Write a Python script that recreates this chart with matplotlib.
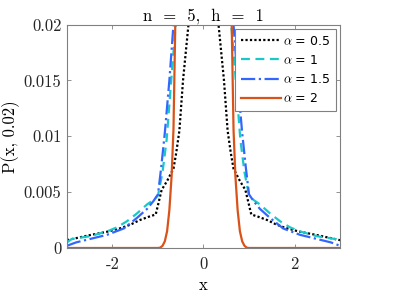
import numpy as np
import matplotlib
matplotlib.use("Agg")
import matplotlib.pyplot as plt
from matplotlib.ticker import FuncFormatter

# half-curves (x >= 0), mirrored to x < 0 below
x_a05 = [0.0, 0.28, 0.33, 0.45, 0.53, 0.60, 0.66, 0.80, 0.92, 1.05, 1.20, 1.40, 1.60, 1.80, 2.10, 2.50, 3.0]
p_a05 = [0.1, 0.025, 0.020, 0.015, 0.0105, 0.0085, 0.0071, 0.0060, 0.0052, 0.0030, 0.0028, 0.0025, 0.0021, 0.0018, 0.00147, 0.00115, 0.0007]

x_a1 = [0.0, 0.55, 0.61, 0.70, 0.81, 0.90, 1.00, 1.10, 1.24, 1.46, 1.68, 1.90, 2.12, 2.50, 2.90, 3.0]
p_a1 = [0.1, 0.025, 0.020, 0.0155, 0.0097, 0.0068, 0.0047, 0.0043, 0.0039, 0.0031, 0.0024, 0.00185, 0.00148, 0.00105, 0.0008, 0.0005]

x_a15 = [0.0, 0.60, 0.66, 0.75, 0.85, 0.93, 1.00, 1.10, 1.24, 1.46, 1.75, 2.12, 2.50, 2.80, 3.0]
p_a15 = [0.1, 0.025, 0.020, 0.015, 0.0103, 0.0072, 0.0048, 0.0042, 0.0035, 0.0027, 0.00175, 0.00118, 0.0008, 0.0005, 0.0002]

x_a2 = [0.0, 0.50, 0.60, 0.62, 0.66, 0.70, 0.75, 0.80, 0.85, 0.90, 0.95, 1.00, 3.0]
p_a2 = [0.5, 0.05, 0.024, 0.020, 0.0106, 0.0065, 0.0034, 0.0015, 0.0006, 0.0002, 0.00003, 0.0, 0.0]

labels = [r"$\alpha$ = 0.5", r"$\alpha$ = 1", r"$\alpha$ = 1.5", r"$\alpha$ = 2"]


def mirror(x, p):
    x = np.asarray(x)
    p = np.asarray(p)
    return np.concatenate([-x[::-1], x[1:]]), np.concatenate([p[::-1], p[1:]])


plt.rcParams["font.family"] = "serif"
plt.rcParams["font.serif"] = ["cmr10"]
plt.rcParams["mathtext.fontset"] = "cm"
plt.rcParams["axes.unicode_minus"] = False

fig = plt.figure(figsize=(4.07, 2.96), dpi=100)
ax = fig.add_axes([0.1646, 0.1622, 0.6708, 0.755])

styles = [
    dict(color="black", linestyle=(0, (1, 1)), linewidth=1.6),
    dict(color="#19c8c8", linestyle=(0, (4, 2.5)), linewidth=1.6),
    dict(color="#3366ff", linestyle="-.", linewidth=1.6),
    dict(color="#d95319", linestyle="-", linewidth=1.6),
]
for (xs, ps), lab, st in zip([(x_a05, p_a05), (x_a1, p_a1), (x_a15, p_a15), (x_a2, p_a2)], labels, styles):
    xx, pp = mirror(xs, ps)
    ax.plot(xx, pp, label=lab, **st)

ax.set_xlim(-3, 3)
ax.set_ylim(0, 0.02)
ax.set_xticks([-2, 0, 2])
ax.set_yticks([0, 0.005, 0.01, 0.015, 0.02])
ax.yaxis.set_major_formatter(FuncFormatter(lambda v, pos: "%g" % v))
ax.xaxis.set_major_formatter(FuncFormatter(lambda v, pos: "%g" % v))
ax.tick_params(direction="in", top=True, right=True, length=3, width=0.6,
               colors="#808080", labelcolor="#262626", labelsize=12, pad=4)
ax.tick_params(axis="x", pad=6)
for s in ax.spines.values():
    s.set_color("#808080")
    s.set_linewidth(0.8)

ax.set_title("n  =  5,  h  =  1", fontsize=12, pad=3)
ax.set_xlabel("x", fontsize=12, labelpad=4)
ax.set_ylabel("P(x, 0.02)", fontsize=12, labelpad=3)

leg = ax.legend(loc="upper right", prop={"family": "DejaVu Sans", "size": 9},
                handlelength=3.2, handletextpad=0.15, borderpad=0.45, labelspacing=0.5,
                fancybox=False, framealpha=1, borderaxespad=0.35)
leg.get_frame().set_edgecolor("#808080")
leg.get_frame().set_linewidth(0.8)

fig.savefig("out.png", dpi=100)
